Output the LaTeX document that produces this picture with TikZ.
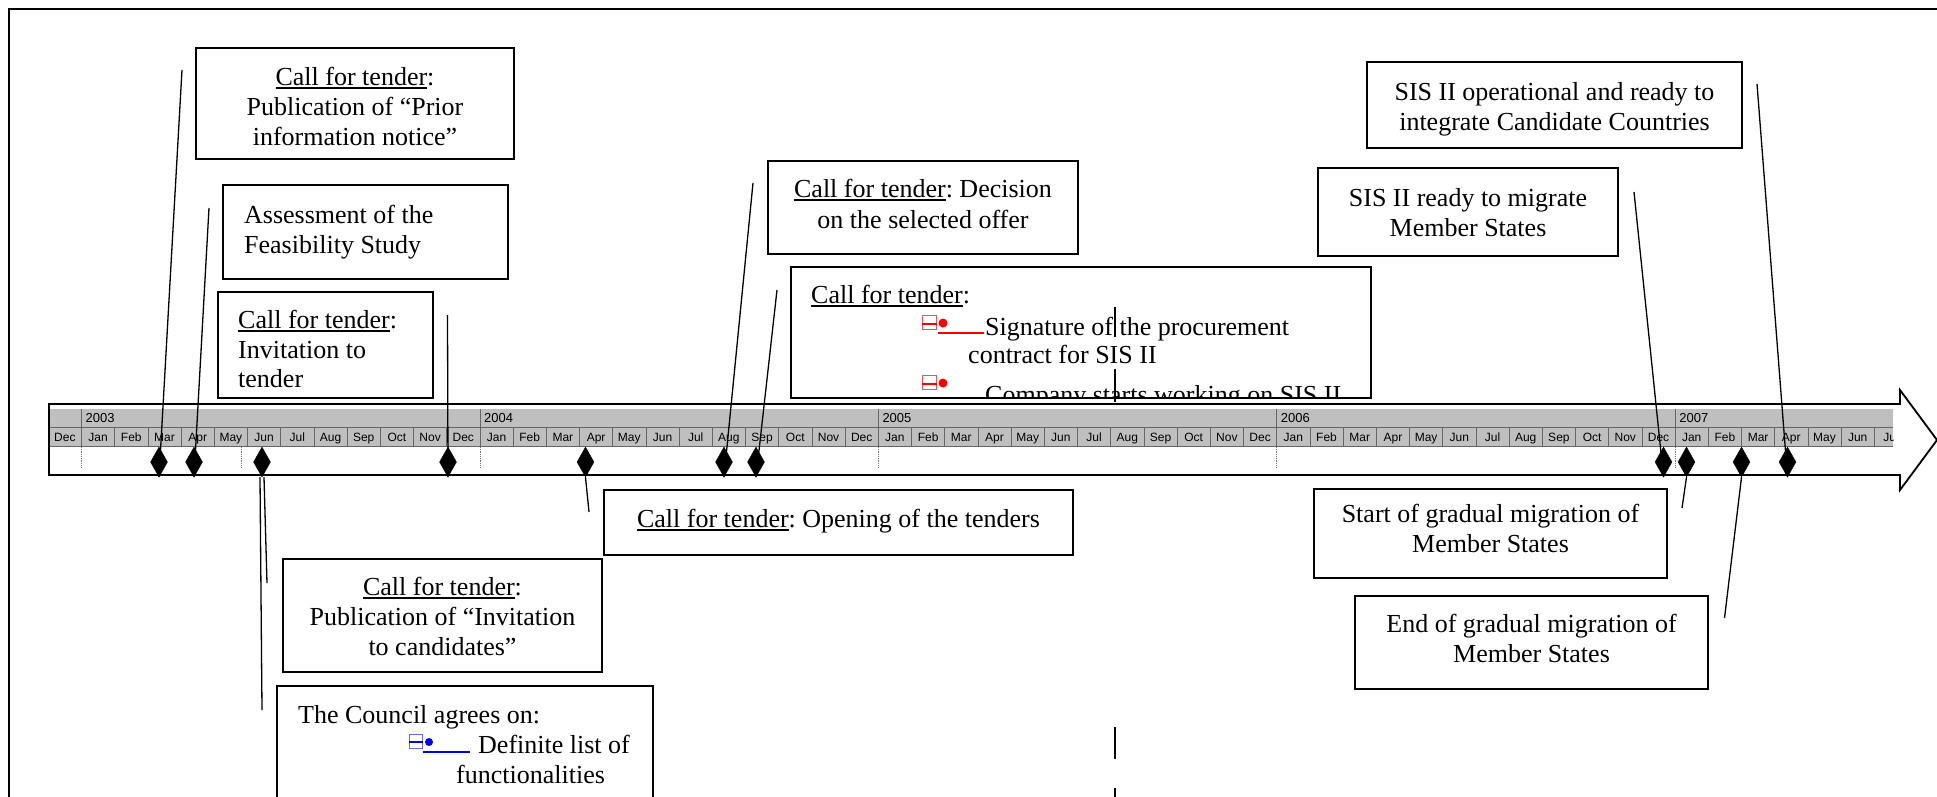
\documentclass[tikz,border=0pt]{standalone}
\usepackage{fontspec}
\setmainfont{Liberation Serif}
\newfontfamily\arialf{Liberation Sans}
\usetikzlibrary{shapes.geometric}
\frenchspacing
\newcommand\mname[1]{\ifcase#1 Jan\or Feb\or Mar\or Apr\or May\or Jun\or Jul\or Aug\or Sep\or Oct\or Nov\or Dec\fi}
\newcommand\myul[1]{\setbox0\hbox{#1}\rlap{\rule[-3.5pt]{\wd0}{1.4pt}}\box0}
\tikzset{
  box/.style={draw, line width=1.8pt, fill=white, inner sep=0pt},
  txt/.style={font=\fontsize{26}{30}\selectfont, inner sep=0pt, anchor=base},
  txtl/.style={txt, anchor=base west},
  ms/.style={diamond, fill=black, draw=black, inner sep=0pt, minimum width=17pt, minimum height=30pt},
  ldr/.style={line width=1.3pt},
  sepl/.style={black!60, line width=0.8pt},
  mlab/.style={font=\arialf\fontsize{12}{12}\selectfont, inner sep=0pt, anchor=base},
  cur/.style={line width=1.8pt},
}
\begin{document}
\begin{tikzpicture}[x=1pt,y=-1pt]
\useasboundingbox (0,0) rectangle (1937,796);
\clip (0,0) rectangle (1937,796);
% outer frame
\draw[line width=2pt] (9,800) -- (9,9) -- (1940,9);
% timeline arrow
\draw[line width=1.8pt, fill=white] (49,404) -- (1900,404) -- (1900,390) -- (1937,440) -- (1900,490) -- (1900,475) -- (49,475) -- cycle;
\fill[gray!50] (50,409) rectangle (1893,446);
\draw[sepl] (50,427) -- (1893,427);
\draw[sepl] (50,446) -- (1893,446);
\foreach \k in {0,...,54} \draw[sepl] ({81.5+33.2*\k},427) -- ({81.5+33.2*\k},446);
\foreach \k/\y in {0/2003,12/2004,24/2005,36/2006,48/2007} {
  \draw[sepl] ({81.5+33.2*\k},409) -- ({81.5+33.2*\k},427);
  \node[mlab, font=\arialf\fontsize{13}{13}\selectfont, anchor=base west] (y\y) at ({85.5+33.2*\k},422.5) {\y};
}
\begin{scope}
\clip (50,409) rectangle (1893,446);
\foreach \k in {-1,...,54} {
  \pgfmathtruncatemacro\mi{mod(\k+12,12)}
  \pgfmathtruncatemacro\kk{\k+1}
  \node[mlab] (mon\kk) at ({98.1+33.2*\k},441) {\mname{\mi}};
}
\end{scope}
\foreach \x in {81.5,241,480,878.3,1276.7,1675.1}
  \draw[black!55, densely dotted, line width=0.8pt] (\x,447) -- (\x,468);
% milestones
\node[ms] (d1) at (159,462) {};
\node[ms] (d2) at (194,462) {};
\node[ms] (d3) at (262,462) {};
\node[ms] (d4) at (448,462) {};
\node[ms] (d5) at (585.5,462) {};
\node[ms] (d6) at (724,462) {};
\node[ms] (d7) at (756,462) {};
\node[ms] (d8) at (1663.5,462) {};
\node[ms] (d9) at (1686.5,462) {};
\node[ms] (d10) at (1741.5,462) {};
\node[ms] (d11) at (1787.5,462) {};
% leader line free ends
\coordinate (t1) at (182,70);
\coordinate (t2) at (209,208);
\coordinate (t4) at (447.5,315);
\coordinate (t3a) at (262,710);
\coordinate (t3b) at (267,583);
\coordinate (t5) at (589,512);
\coordinate (t6) at (753,183);
\coordinate (t7) at (777,290);
\coordinate (t8) at (1634,192);
\coordinate (t9) at (1682,508);
\coordinate (t10) at (1724.5,618);
\coordinate (t11) at (1757,84);
\draw[ldr] (t1) -- (d1.south);
\draw[ldr] (t2) -- (d2.south);
\draw[ldr] (t4) -- (d4.south);
\draw[ldr] ([xshift=-2pt]d3.south) -- (t3a);
\draw[ldr] ([xshift=2pt]d3.south) -- (t3b);
\draw[ldr] (d5.south) -- (t5);
\draw[ldr] (t6) -- (d6.south);
\draw[ldr] (t7) -- (d7.south);
\draw[ldr] (t8) -- (d8.south);
\draw[ldr] (d9.south) -- (t9);
\draw[ldr] (d10.south) -- (t10);
\draw[ldr] (t11) -- (d11.south);
% boxes
\node[box, minimum width=318pt, minimum height=111pt] (bA) at (355,103.5) {};
\node[box, minimum width=285pt, minimum height=94pt] (bB) at (365.5,232) {};
\node[box, minimum width=215pt, minimum height=106pt] (bC) at (325.5,345) {};
\node[box, minimum width=310pt, minimum height=93pt] (bD) at (923,207.5) {};
\node[box, minimum width=580pt, minimum height=131pt] (bE) at (1081,332.5) {};
\node[box, minimum width=469pt, minimum height=65pt] (bF) at (838.5,522.5) {};
\node[box, minimum width=319pt, minimum height=113pt] (bG) at (442.5,615.5) {};
\node[box, minimum width=376pt, minimum height=144pt] (bH) at (465,758) {};
\node[box, minimum width=375pt, minimum height=86pt] (bI) at (1554.5,105) {};
\node[box, minimum width=300pt, minimum height=88pt] (bJ) at (1468,212) {};
\node[box, minimum width=353pt, minimum height=89pt] (bK) at (1490.5,533.5) {};
\node[box, minimum width=353pt, minimum height=93pt] (bL) at (1531.5,642.5) {};
% texts
\node[txt] (A1) at (355,85) {\myul{Call for tender}:};
\node[txt] (A2) at (355,115) {Publication of “Prior};
\node[txt] (A3) at (355,145) {information notice”};
\node[txtl] (B1) at (244,223) {Assessment of the};
\node[txtl] (B2) at (244,253) {Feasibility Study};
\node[txtl] (C1) at (238,328) {\myul{Call for tender}:};
\node[txtl] (C2) at (238,358) {Invitation to};
\node[txtl] (C3) at (238,387) {tender};
\node[txt] (D1) at (923,197) {\myul{Call for tender}: Decision};
\node[txt] (D2) at (923,228) {on the selected offer};
\node[txtl] (E1) at (811,303) {\myul{Call for tender}:};
\node[txtl] (E2) at (985,335) {Signature of the procurement};
\node[txtl] (E3) at (968,363) {contract for SIS II};
\begin{scope}
\clip (bE.south west) rectangle (bE.north east);
\node[txtl] (E4) at (985,403) {Company starts working on SIS II};
\end{scope}
\draw[red!70, line width=0.7pt] (922,315) rectangle (936,329);
\draw[red, line width=1.5pt] (922,324) -- (937,324);
\fill[red] (943,323) circle (4.5);
\draw[red, line width=1.5pt] (938,333) -- (984,333);
\draw[red!70, line width=0.7pt] (922,375) rectangle (936,389);
\draw[red, line width=1.5pt] (922,384) -- (937,384);
\fill[red] (943,383) circle (4.5);
\node[txt] (F1) at (838.5,527) {\myul{Call for tender}: Opening of the tenders};
\node[txt] (G1) at (442.5,595) {\myul{Call for tender}:};
\node[txt] (G2) at (442.5,625) {Publication of “Invitation};
\node[txt] (G3) at (442.5,655) {to candidates”};
\node[txtl] (H1) at (298,723) {The Council agrees on:};
\node[txtl] (H2) at (478,753) {Definite list of};
\node[txtl] (H3) at (456,783) {functionalities};
\draw[blue!60, line width=0.7pt] (409,734) rectangle (422,748);
\draw[blue, line width=1.5pt] (409,742) -- (423,742);
\fill[blue] (429,742) circle (4);
\draw[blue, line width=1.5pt] (423,752) -- (470,752);
\node[txt] (I1) at (1554.5,100) {SIS II operational and ready to};
\node[txt] (I2) at (1554.5,130) {integrate Candidate Countries};
\node[txt] (J1) at (1468,206) {SIS II ready to migrate};
\node[txt] (J2) at (1468,236) {Member States};
\node[txt] (K1) at (1490.5,522) {Start of gradual migration of};
\node[txt] (K2) at (1490.5,552) {Member States};
\node[txt] (L1) at (1531.5,632) {End of gradual migration of};
\node[txt] (L2) at (1531.5,662) {Member States};
% cursor marks
\draw[cur] (1115,307) -- (1115,337);
\draw[cur] (1115,369) -- (1115,402);
\draw[cur] (1115,727) -- (1115,759);
\draw[cur] (1115,788) -- (1115,800);
\end{tikzpicture}
\end{document}
